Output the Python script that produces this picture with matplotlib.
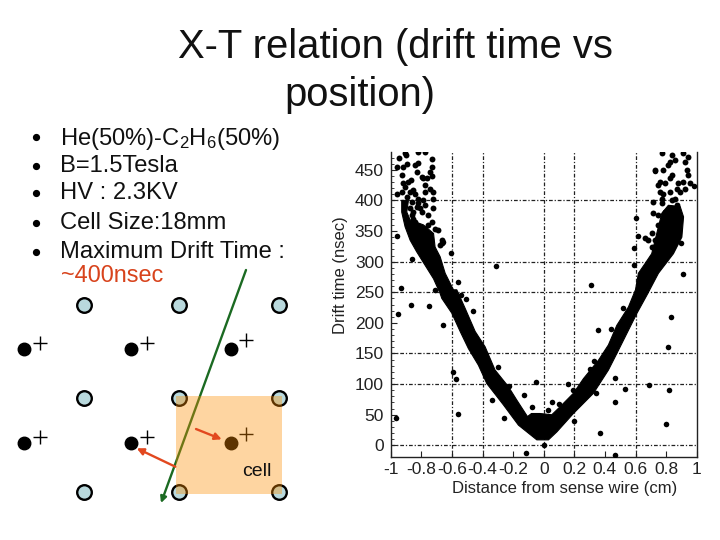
import matplotlib
matplotlib.use("Agg")
import matplotlib.pyplot as plt
from matplotlib.patches import Rectangle, FancyArrowPatch

plt.rcParams['font.family'] = ['Liberation Sans', 'DejaVu Sans']
plt.rcParams['mathtext.fontset'] = 'custom'
plt.rcParams['mathtext.rm'] = 'Liberation Sans'
plt.rcParams['mathtext.default'] = 'rm'

# ---- text ----
title_lines = ["X-T relation (drift time vs", "position)"]
bullets = ["He(50%)-C$_2$H$_6$(50%)", "B=1.5Tesla", "HV : 2.3KV", "Cell Size:18mm", "Maximum Drift Time :"]
note = "~400nsec"

# ---- outline of the dense band of hits ----
band_x = [-0.928, -0.884, -0.895, -0.873, -0.786, -0.72, -0.71, -0.677, -0.644, -0.59, -0.568, -0.514,
          -0.448, -0.383, -0.318, -0.231, -0.176, -0.106, -0.08, -0.024, 0.053, 0.107, 0.194, 0.26,
          0.358, 0.423, 0.478, 0.554, 0.60, 0.619, 0.663, 0.706, 0.728, 0.75, 0.772, 0.815,
          0.892, 0.914, 0.903, 0.848, 0.75, 0.674, 0.608, 0.554, 0.478, 0.423, 0.325, 0.194,
          0.086, 0.031, -0.045, -0.165, -0.263, -0.372, -0.427, -0.492, -0.546, -0.601, -0.666,
          -0.677, -0.72, -0.775, -0.83, -0.873, -0.906, -0.928]
band_y = [400, 400, 381, 368, 360, 346, 324, 308, 281, 254, 254, 224,
          186, 161, 123, 96, 74, 47, 52, 52, 50, 63, 85, 109,
          139, 164, 196, 226, 254, 281, 297, 313, 335, 357, 379, 392,
          390, 373, 340, 313, 281, 245, 215, 188, 150, 123, 85, 52,
          22, 9, 9, 33, 66, 101, 131, 158, 186, 216, 240,
          248, 272, 294, 316, 335, 357, 381]

# ---- isolated hits ----
out_x = [-0.967, -0.96, -0.95, -0.93, -0.867, -0.86, -0.748, -0.713, -0.66, -0.657, -0.604, -0.596,
         -0.57, -0.56, -0.56, -0.543, -0.507, -0.46, -0.31, -0.30, -0.337, -0.26, -0.226, -0.126,
         -0.113, -0.078, -0.048, 0.004, 0.03, 0.054, 0.10, 0.157, 0.19, 0.20, 0.31, 0.33, 0.304,
         0.343, 0.354, 0.367, 0.44, 0.467, 0.465, 0.463, 0.533, 0.517, 0.587, 0.59, 0.60, 0.615,
         0.69, 0.798, 0.81, 0.822, 0.835, 0.90, 0.909, 0.985, 0.728]
out_y = [44, 342, 214, 257, 230, 305, 228, 254, 197, 332, 314, 119,
         108, 52, 266, 245, 239, 219, 293, 128, 74, 45, 97, 83,
         -12, 63, 104, 0, 58, 71, 67, 101, 91, 40, 262, 138, 125,
         86, 188, 20, 190, 110, 71, -15, 92, 225, 295, 322, 372, 342,
         99, 35, 160, 90, 209, 330, 280, 424, 448]

# ---- sparse clusters at large drift time ----
top_left_x = [-0.943, -0.899, -0.906, -0.819, -0.775, -0.732, -0.895, -0.917, -0.960, -0.928, -0.819, -0.841,
              -0.732, -0.830, -0.797, -0.786, -0.743, -0.732, -0.764, -0.917, -0.884, -0.869, -0.906, -0.928,
              -0.956, -0.775, -0.851, -0.841, -0.775, -0.743, -0.721, -0.873, -0.895, -0.819, -0.786, -0.721,
              -0.775, -0.830, -0.721, -0.851, -0.808, -0.753, -0.732, -0.753, -0.851, -0.688, -0.710, -0.666,
              -0.677, -0.666, -0.862, -0.819, -0.873, -0.797, -0.862, -0.841]
top_left_y = [470, 474, 478, 479, 479, 468, 459, 455, 455, 441, 461, 458,
              455, 447, 438, 436, 447, 440, 436, 428, 430, 433, 422, 414,
              410, 425, 417, 411, 414, 418, 414, 414, 406, 403, 400, 403,
              392, 390, 388, 381, 387, 376, 365, 360, 370, 351, 354, 335,
              327, 330, 398, 395, 387, 381, 376, 365]
top_right_x = [0.771, 0.837, 0.913, 0.946, 0.826, 0.859, 0.924, 0.728, 0.782, 0.815, 0.935, 0.946,
               0.837, 0.826, 0.761, 0.750, 0.793, 0.880, 0.913, 0.957, 0.869, 0.924, 0.761, 0.782,
               0.826, 0.891, 0.771, 0.717, 0.859, 0.837, 0.771, 0.869, 0.717, 0.750, 0.793, 0.706,
               0.684, 0.728, 0.706, 0.662, 0.750]
top_right_y = [477, 474, 477, 471, 463, 466, 463, 449, 450, 458, 449, 441,
               441, 436, 430, 425, 428, 428, 430, 428, 419, 419, 414, 411,
               414, 414, 403, 398, 403, 400, 395, 392, 379, 376, 381, 346,
               335, 335, 324, 338, 360]

x_ticks = [-1, -0.8, -0.6, -0.4, -0.2, 0, 0.2, 0.4, 0.6, 0.8, 1]
x_tick_labels = ["-1", "-0.8", "-0.6", "-0.4", "-0.2", "0", "0.2", "0.4", "0.6", "0.8", "1"]
y_ticks = [0, 50, 100, 150, 200, 250, 300, 350, 400, 450]
x_grid = [-0.6, -0.4, 0, 0.2, 0.6]
y_grid = [0, 100, 150, 250, 300, 400]

# ---- wire diagram (slide pixel positions) ----
field_wire_x = [84, 178.7, 278.7]
field_wire_y = [305, 398.3, 491.7]
sense_wire_x = [24.3, 131.3, 231.3]
sense_wire_y = [349, 443]
plus_x = [40, 146.7, 246]
plus_y = [342.7, 436.7]

W, H = 720, 540
fig = plt.figure(figsize=(W / 100, H / 100), dpi=100, facecolor='white')

# slide layer in pixel coordinates
bg = fig.add_axes([0, 0, 1, 1])
bg.set_xlim(0, W)
bg.set_ylim(H, 0)
bg.axis('off')

bg.text(395.5, 47.5, title_lines[0], fontsize=28.8, ha='center', va='center', color='#111111')
bg.text(359.5, 94.5, title_lines[1], fontsize=28.8, ha='center', va='center', color='#111111')

bullet_y = [137, 166, 193, 223, 252]
for y, t in zip(bullet_y, bullets):
    bg.plot([36], [y], 'o', ms=4.2, color='black')
    bg.text(60.5, y + (1.5 if '$' in t else 0), t, fontsize=17.1, ha='left', va='center', color='#111111')
bg.text(60.5, 275, note, fontsize=16.9, ha='left', va='center', color='#d8431c')

for y in field_wire_y:
    for x in field_wire_x:
        bg.plot([x], [y], 'o', ms=10.5, mfc='#b9d9dd', mec='black', mew=1.7, zorder=2)
for y in sense_wire_y:
    for x in sense_wire_x:
        bg.plot([x], [y], 'o', ms=9, color='black', zorder=2)
for i, y in enumerate(plus_y):
    for j, x in enumerate(plus_x):
        dy = -2.7 if j == 2 else 0
        bg.plot([x], [y + dy], '+', ms=10.5, mew=1.0, color='black', zorder=2)

bg.add_patch(Rectangle((176, 396), 106, 98.3, fc=(253 / 255, 141 / 255, 0), alpha=0.37, ec='none', zorder=3))
bg.text(257, 472, "cell", fontsize=14, ha='center', va='center', color='#111111', zorder=5)

bg.add_patch(FancyArrowPatch((246, 270), (161, 503), arrowstyle='-|>', mutation_scale=9,
                             color='#1b6a22', lw=1.7, shrinkA=0, shrinkB=0, zorder=2.5))
for a, b in [((196, 429), (221.7, 439.3)), ((175.3, 466.7), (136.7, 448.3))]:
    bg.add_patch(FancyArrowPatch(a, b, arrowstyle='-|>', mutation_scale=10, color='#e2481f',
                                 lw=1.7, shrinkA=0, shrinkB=0, zorder=4))

# chart
L, R, T, B = 390.7, 696.7, 152, 457
ax = fig.add_axes([L / W, 1 - B / H, (R - L) / W, (B - T) / H])
ax.patch.set_alpha(0)
ax.set_xlim(-1, 1)
ax.set_ylim(-19, 479)

for x in x_grid:
    ax.axvline(x, color='#222222', lw=0.9, ls=(0, (3, 1.5, 1, 1.5)), zorder=1)
for y in y_grid:
    ax.axhline(y, color='#222222', lw=0.9, ls=(0, (3, 1.5, 1, 1.5)), zorder=1)

ax.fill(band_x, band_y, color='black', lw=0.8, zorder=2)
ax.scatter(out_x, out_y, s=16, color='black', lw=0, zorder=3)
ax.scatter(top_left_x, top_left_y, s=18, color='black', lw=0, zorder=3)
ax.scatter(top_right_x, top_right_y, s=18, color='black', lw=0, zorder=3)

ax.set_xticks(x_ticks)
ax.set_xticklabels(x_tick_labels)
ax.set_yticks(y_ticks)
ax.set_yticks(list(range(0, 480, 10)), minor=True)
ax.tick_params(axis='both', which='major', labelsize=12.5, direction='in', length=4, width=0.8,
               colors='#222222', pad=5)
ax.tick_params(axis='x', pad=3.5)
ax.tick_params(axis='y', which='minor', direction='in', length=2, width=0.6, colors='#222222')
for side in ['left', 'bottom', 'right']:
    ax.spines[side].set_linewidth(1.0)
    ax.spines[side].set_color('#222222')
ax.spines['top'].set_visible(False)

bg.text(340, 275, "Drift time (nsec)", fontsize=12, rotation=90, ha='center', va='center', color='#222222')
bg.text(565, 488, "Distance from sense wire (cm)", fontsize=12, ha='center', va='center', color='#222222')

fig.savefig("out.png", dpi=100, facecolor='white')
